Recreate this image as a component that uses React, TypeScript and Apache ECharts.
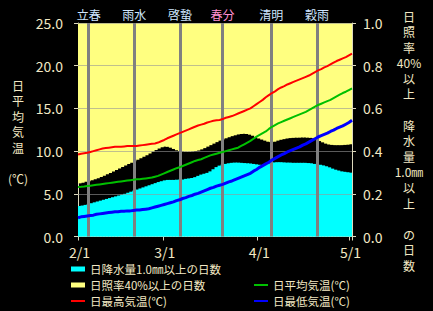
import React, { useEffect, useRef } from "react";
import * as echarts from "echarts";

// ---- categories: 2/1 .. 5/1 ----
const monthLengths: number[][] = [
  [2, 28],
  [3, 31],
  [4, 30],
  [5, 1],
];
const categories: string[] = [];
monthLengths.forEach(([m, n]) => {
  for (let d = 1; d <= n; d++) categories.push(`${m}/${d}`);
});
const tickLabels = ["2/1", "3/1", "4/1", "5/1"];
const leftTicks = [0, 5, 10, 15, 20, 25];
const rightTicks = [0, 0.2, 0.4, 0.6, 0.8, 1.0];

// 二十四節気
const sekkiNames = ["立春", "雨水", "啓蟄", "春分", "清明", "穀雨"];
const sekkiDates = ["2/4", "2/19", "3/6", "3/20", "4/5", "4/20"];

// series names
const PRECIP = "日降水量1.0㎜以上の日数";
const SUN = "日照率40%以上の日数";
const TMAX = "日最高気温(℃)";
const TAVG = "日平均気温(℃)";
const TMIN = "日最低気温(℃)";

// ---- daily values ----
const maxTemp = [
  9.6, 9.7, 9.75, 9.8, 9.9, 10.0, 10.1, 10.2, 10.3, 10.35,
  10.4, 10.45, 10.5, 10.5, 10.5, 10.55, 10.6, 10.6, 10.6, 10.6,
  10.65, 10.7, 10.75, 10.8, 10.85, 10.9, 11.0, 11.15, 11.3, 11.5,
  11.65, 11.8, 11.95, 12.1, 12.25, 12.4, 12.55, 12.7, 12.85, 13.0,
  13.1, 13.2, 13.35, 13.45, 13.55, 13.6, 13.65, 13.75, 13.9, 14.0,
  14.1, 14.25, 14.4, 14.55, 14.7, 14.85, 15.0, 15.25, 15.5, 15.75,
  16.0, 16.3, 16.55, 16.8, 17.0, 17.25, 17.45, 17.6, 17.8, 17.95,
  18.1, 18.25, 18.4, 18.55, 18.7, 18.85, 19.05, 19.25, 19.45, 19.6,
  19.8, 19.95, 20.15, 20.35, 20.55, 20.7, 20.85, 21.0, 21.2, 21.4,
];
const avgTemp = [
  5.8, 5.82, 5.85, 5.9, 5.95, 6.0, 6.05, 6.1, 6.15, 6.2,
  6.25, 6.3, 6.35, 6.4, 6.45, 6.5, 6.55, 6.6, 6.65, 6.7,
  6.7, 6.75, 6.8, 6.85, 6.9, 7.0, 7.1, 7.25, 7.4, 7.55,
  7.7, 7.85, 8.0, 8.1, 8.25, 8.4, 8.55, 8.7, 8.85, 8.95,
  9.05, 9.2, 9.35, 9.5, 9.6, 9.7, 9.8, 9.9, 10.0, 10.1,
  10.2, 10.3, 10.4, 10.6, 10.8, 11.0, 11.2, 11.45, 11.7, 11.9,
  12.1, 12.3, 12.6, 12.85, 13.05, 13.25, 13.4, 13.55, 13.7, 13.85,
  14.0, 14.15, 14.3, 14.45, 14.6, 14.8, 15.0, 15.2, 15.4, 15.55,
  15.7, 15.85, 16.0, 16.2, 16.4, 16.6, 16.8, 16.95, 17.15, 17.35,
];
const minTemp = [
  2.2, 2.3, 2.35, 2.4, 2.45, 2.5, 2.6, 2.65, 2.7, 2.75,
  2.8, 2.85, 2.9, 2.9, 2.95, 2.95, 3.0, 3.0, 3.05, 3.1,
  3.1, 3.15, 3.2, 3.25, 3.35, 3.45, 3.55, 3.65, 3.75, 3.85,
  3.95, 4.05, 4.2, 4.3, 4.45, 4.55, 4.7, 4.8, 4.95, 5.05,
  5.2, 5.35, 5.5, 5.65, 5.75, 5.9, 6.0, 6.1, 6.25, 6.4,
  6.5, 6.65, 6.8, 6.95, 7.1, 7.25, 7.4, 7.65, 7.85, 8.1,
  8.3, 8.5, 8.7, 8.95, 9.15, 9.35, 9.55, 9.7, 9.9, 10.05,
  10.2, 10.35, 10.5, 10.7, 10.85, 11.05, 11.25, 11.45, 11.65, 11.8,
  11.95, 12.1, 12.3, 12.45, 12.65, 12.8, 12.95, 13.15, 13.35, 13.6,
];
const precipRatio = [
  0.143, 0.145, 0.148, 0.152, 0.156, 0.16, 0.164, 0.168, 0.172, 0.176,
  0.18, 0.184, 0.188, 0.192, 0.196, 0.2, 0.205, 0.21, 0.215, 0.22,
  0.225, 0.23, 0.235, 0.24, 0.245, 0.25, 0.255, 0.259, 0.263, 0.265,
  0.265, 0.265, 0.266, 0.266, 0.267, 0.27, 0.272, 0.274, 0.278, 0.284,
  0.29, 0.294, 0.298, 0.305, 0.315, 0.325, 0.332, 0.337, 0.34, 0.343,
  0.345, 0.346, 0.346, 0.345, 0.344, 0.343, 0.342, 0.34, 0.338, 0.336,
  0.335, 0.335, 0.34, 0.346, 0.347, 0.348, 0.348, 0.347, 0.346, 0.346,
  0.345, 0.345, 0.345, 0.345, 0.345, 0.344, 0.343, 0.34, 0.338, 0.336,
  0.333, 0.329, 0.324, 0.318, 0.313, 0.309, 0.305, 0.303, 0.301, 0.299,
];
const sunRatio = [
  0.751, 0.748, 0.744, 0.741, 0.737, 0.732, 0.727, 0.721, 0.715, 0.709,
  0.702, 0.695, 0.688, 0.681, 0.674, 0.667, 0.66, 0.655, 0.648, 0.641,
  0.634, 0.627, 0.619, 0.611, 0.603, 0.595, 0.588, 0.582, 0.579, 0.58,
  0.584, 0.59, 0.596, 0.6, 0.602, 0.603, 0.603, 0.602, 0.6, 0.597,
  0.592, 0.586, 0.579, 0.572, 0.565, 0.558, 0.551, 0.545, 0.54, 0.535,
  0.53, 0.526, 0.522, 0.52, 0.519, 0.52, 0.523, 0.528, 0.535, 0.541,
  0.546, 0.551, 0.556, 0.558, 0.556, 0.551, 0.547, 0.544, 0.541, 0.539,
  0.538, 0.537, 0.537, 0.536, 0.536, 0.537, 0.538, 0.54, 0.545, 0.553,
  0.559, 0.565, 0.569, 0.571, 0.572, 0.572, 0.572, 0.571, 0.57, 0.568,
];

const FONT = '"Noto Sans CJK JP", "Noto Sans", sans-serif';
const TXT = "#f2e8c4";
const AXIS = "#ddd8bc";

const legendBase = {
  orient: "vertical",
  itemWidth: 14,
  itemGap: 4,
  padding: 0,
  selectedMode: false,
  textStyle: { color: TXT, fontSize: 11.5, fontFamily: FONT, lineHeight: 12 },
};

export default function App() {
  const ref = useRef<HTMLDivElement>(null);
  useEffect(() => {
    if (!ref.current) return;
    const chart = echarts.init(ref.current, undefined, { renderer: "svg" });
    const tickIdx = tickLabels.map((t) => categories.indexOf(t));
    const gap = precipRatio.map((p, i) => Math.max(0, 1 - p - sunRatio[i]));
    const showTick = (i: number) => tickIdx.indexOf(i) >= 0;

    const gridLines = rightTicks
      .filter((v) => v > 0)
      .map((v) => ({
        yAxis: v,
        lineStyle: { color: "rgba(150,150,150,0.6)", width: 1, type: "solid" },
        label: { show: false },
      }));
    const sekkiLines = sekkiNames.map((n, k) => ({
      name: n,
      xAxis: sekkiDates[k],
      lineStyle: { color: "#808080", width: 3, type: "solid" },
      label: {
        show: true,
        position: "end",
        formatter: n,
        distance: 3,
        color: n === "春分" ? "#ff90d0" : "#cfe6ff",
        fontSize: 12,
        fontFamily: FONT,
      },
    }));

    const barCommon = {
      type: "bar",
      stack: "ratio",
      xAxisIndex: 0,
      yAxisIndex: 1,
      barWidth: 4,
      silent: true,
    };

    chart.setOption({
      animation: false,
      backgroundColor: "#000000",
      grid: { left: 78, right: 81, top: 23, bottom: 74.5 },
      xAxis: [
        {
          type: "category",
          data: categories,
          boundaryGap: true,
          axisLine: { show: true, lineStyle: { color: AXIS, width: 1 } },
          axisTick: {
            show: true,
            interval: (i: number) => showTick(i),
            length: 4,
            lineStyle: { color: AXIS },
          },
          axisLabel: {
            interval: (i: number) => showTick(i),
            color: TXT,
            fontSize: 14,
            fontFamily: FONT,
            margin: 8,
          },
          splitLine: { show: false },
        },
        {
          type: "category",
          data: categories,
          boundaryGap: false,
          show: false,
        },
      ],
      yAxis: [
        {
          type: "value",
          position: "left",
          min: leftTicks[0],
          max: leftTicks[leftTicks.length - 1],
          interval: 5,
          axisLine: { show: true, lineStyle: { color: AXIS } },
          axisTick: { show: true, length: 4, lineStyle: { color: AXIS } },
          axisLabel: {
            color: TXT,
            fontSize: 14,
            fontFamily: FONT,
            margin: 15,
            formatter: (v: number) => v.toFixed(1),
          },
          splitLine: { show: false },
        },
        {
          type: "value",
          position: "right",
          min: rightTicks[0],
          max: rightTicks[rightTicks.length - 1],
          interval: 0.2,
          axisLine: { show: true, lineStyle: { color: AXIS } },
          axisTick: { show: true, length: 4, lineStyle: { color: AXIS } },
          axisLabel: {
            color: TXT,
            fontSize: 14,
            fontFamily: FONT,
            margin: 11,
            formatter: (v: number) => v.toFixed(1),
          },
          splitLine: { show: false },
        },
      ],
      legend: [
        {
          ...legendBase,
          left: 71,
          top: 263,
          itemHeight: 5,
          data: [
            { name: PRECIP, icon: "rect" },
            { name: SUN, icon: "rect" },
          ],
        },
        {
          ...legendBase,
          left: 71,
          top: 295,
          itemHeight: 2,
          data: [{ name: TMAX, icon: "rect" }],
        },
        {
          ...legendBase,
          left: 254,
          top: 279,
          itemHeight: 2,
          data: [
            { name: TAVG, icon: "rect" },
            { name: TMIN, icon: "rect" },
          ],
        },
      ],
      graphic: [
        {
          type: "text",
          x: 18,
          y: 77.2,
          style: {
            text: ["日", "平", "均", "気", "温", "", "(℃)"].join("\n"),
            fill: TXT,
            font: `12px ${FONT}`,
            align: "center",
            verticalAlign: "top",
            lineHeight: 15.6,
          },
        },
        {
          type: "text",
          x: 409,
          y: 8.2,
          style: {
            text: [
              "日", "照", "率", "40%", "以", "上", "",
              "降", "水", "量", "1.0㎜", "以", "上", "",
              "の", "日", "数",
            ].join("\n"),
            fill: TXT,
            font: `12px ${FONT}`,
            align: "center",
            verticalAlign: "top",
            lineHeight: 15.6,
          },
        },
      ],
      series: [
        {
          ...barCommon,
          name: PRECIP,
          data: precipRatio,
          itemStyle: { color: "#00ffff" },
        },
        {
          ...barCommon,
          name: "gap",
          data: gap,
          itemStyle: { color: "rgba(0,0,0,0)" },
        },
        {
          ...barCommon,
          name: SUN,
          data: sunRatio,
          itemStyle: { color: "#ffff80" },
          markLine: {
            silent: true,
            symbol: ["none", "none"],
            animation: false,
            data: [...gridLines, ...sekkiLines],
          },
        },
        {
          type: "line",
          name: TMAX,
          xAxisIndex: 1,
          yAxisIndex: 0,
          data: maxTemp,
          symbol: "none",
          z: 6,
          lineStyle: { color: "#ff0000", width: 2 },
          itemStyle: { color: "#ff0000" },
        },
        {
          type: "line",
          name: TAVG,
          xAxisIndex: 1,
          yAxisIndex: 0,
          data: avgTemp,
          symbol: "none",
          z: 6,
          lineStyle: { color: "#00c000", width: 2 },
          itemStyle: { color: "#00c000" },
        },
        {
          type: "line",
          name: TMIN,
          xAxisIndex: 1,
          yAxisIndex: 0,
          data: minTemp,
          symbol: "none",
          z: 6,
          lineStyle: { color: "#0000ff", width: 3 },
          itemStyle: { color: "#0000ff" },
        },
      ],
    });
    return () => chart.dispose();
  }, []);
  return (
    <div
      ref={ref}
      style={{ position: "fixed", left: 0, top: 0, width: 433, height: 311, background: "#000" }}
    />
  );
}
